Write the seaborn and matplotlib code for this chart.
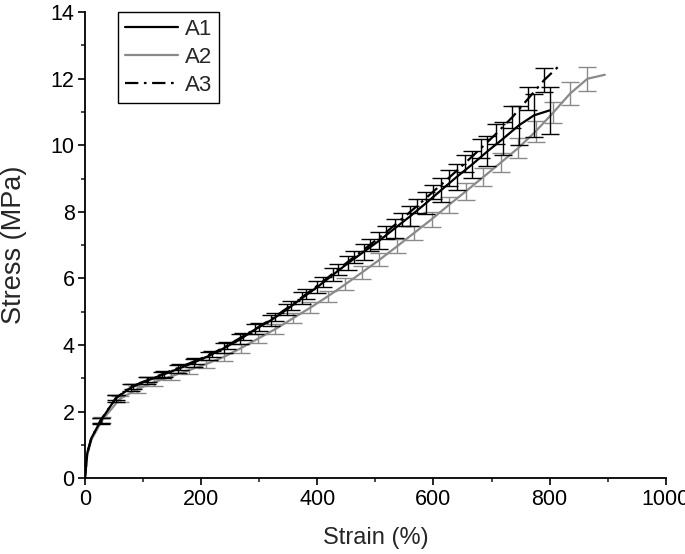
import numpy as np
import pandas as pd
import matplotlib
matplotlib.use("Agg")
import matplotlib.pyplot as plt
from matplotlib.ticker import MultipleLocator
import seaborn as sns

# strain (%) / stress (MPa) / error
a1_strain = [0, 4, 11, 27, 53, 80, 107, 133, 160, 187, 213, 240, 267, 293, 320, 347, 373,
             400, 427, 453, 480, 507, 533, 560, 587, 613, 640, 667, 693, 720, 747, 773, 800]
a1_stress = [0, 0.75, 1.20, 1.72, 2.40, 2.73, 2.93, 3.10, 3.28, 3.47, 3.67, 3.91, 4.17, 4.47, 4.74, 5.06, 5.40,
             5.74, 6.11, 6.46, 6.80, 7.14, 7.50, 7.87, 8.26, 8.65, 9.05, 9.43, 9.82, 10.20, 10.60, 10.90, 11.05]
a1_err = [0, 0, 0, 0.10, 0.10, 0.10, 0.10, 0.10, 0.12, 0.12, 0.13, 0.14, 0.15, 0.15, 0.16, 0.17, 0.18,
          0.19, 0.20, 0.22, 0.24, 0.26, 0.28, 0.30, 0.33, 0.36, 0.38, 0.40, 0.45, 0.50, 0.58, 0.65, 0.70]

a2_strain = [0, 4, 11, 30, 60, 90, 119, 149, 179, 209, 239, 268, 298, 328, 358, 388, 418,
             448, 477, 507, 537, 567, 597, 626, 656, 686, 716, 746, 776, 806, 835, 865, 895]
a2_stress = [0, 0.70, 1.15, 1.75, 2.38, 2.67, 2.88, 3.06, 3.24, 3.43, 3.64, 3.90, 4.19, 4.48, 4.80, 5.12, 5.46,
             5.82, 6.18, 6.56, 6.96, 7.37, 7.78, 8.20, 8.62, 9.05, 9.48, 9.92, 10.42, 10.98, 11.55, 12.00, 12.12]
a2_err = [0, 0, 0, 0.10, 0.10, 0.10, 0.10, 0.10, 0.11, 0.12, 0.12, 0.13, 0.14, 0.15, 0.15, 0.16, 0.17,
          0.18, 0.19, 0.20, 0.21, 0.22, 0.23, 0.24, 0.25, 0.26, 0.28, 0.30, 0.31, 0.32, 0.34, 0.36, 0]

a3_strain = [0, 4, 11, 27, 54, 82, 109, 136, 163, 190, 218, 245, 272, 300, 327, 354, 381,
             409, 436, 463, 490, 518, 545, 572, 599, 627, 654, 681, 708, 736, 763, 790, 817]
a3_stress = [0, 0.75, 1.20, 1.74, 2.42, 2.76, 2.96, 3.14, 3.33, 3.52, 3.73, 3.98, 4.26, 4.55, 4.85, 5.18, 5.53,
             5.90, 6.27, 6.64, 7.00, 7.38, 7.78, 8.18, 8.60, 9.03, 9.46, 9.90, 10.35, 10.85, 11.40, 11.95, 12.40]
a3_err = [0, 0, 0, 0.08, 0.08, 0.08, 0.08, 0.09, 0.09, 0.10, 0.10, 0.11, 0.11, 0.12, 0.12, 0.13, 0.14,
          0.15, 0.16, 0.17, 0.18, 0.19, 0.20, 0.21, 0.22, 0.24, 0.26, 0.28, 0.30, 0.32, 0.34, 0.36, 0]

sns.set_style("ticks")
plt.rcParams["font.family"] = ["Liberation Sans", "DejaVu Sans"]

fig = plt.figure(figsize=(6.85, 5.54), dpi=100)
ax = fig.add_axes([0.124, 0.137, 0.848, 0.841])

grey = "#8a8a8a"
series = [
    ("A2", a2_strain, a2_stress, a2_err, grey, "-"),
    ("A1", a1_strain, a1_stress, a1_err, "black", "-"),
    ("A3", a3_strain, a3_stress, a3_err, "black", (0, (6, 2.5, 1.2, 2.5))),
]
for name, xs, ys, es, col, ls in series:
    df = pd.DataFrame({"strain": xs, "stress": ys, "err": es})
    sns.lineplot(data=df, x="strain", y="stress", ax=ax, color=col, lw=1.6,
                 linestyle=ls, label=name, sort=False)
    sub = df[df["err"] > 0]
    ax.errorbar(sub["strain"], sub["stress"], yerr=sub["err"], fmt="none",
                ecolor=col, elinewidth=1.0, capsize=6.5, capthick=1.0)

ax.set_xlim(0, 1000)
ax.set_ylim(0, 14)
ax.xaxis.set_major_locator(MultipleLocator(200))
ax.xaxis.set_minor_locator(MultipleLocator(100))
ax.yaxis.set_major_locator(MultipleLocator(2))
ax.yaxis.set_minor_locator(MultipleLocator(1))
ax.tick_params(which="major", direction="out", length=5, width=1.2, pad=2.5,
               labelsize=15.5, colors="black")
ax.tick_params(which="minor", direction="out", length=3, width=1.2)
for s in ["left", "bottom"]:
    ax.spines[s].set_linewidth(1.3)
    ax.spines[s].set_color("black")
sns.despine(ax=ax)

ax.set_xlabel("Strain (%)", fontsize=17)
ax.set_ylabel("Stress (MPa)", fontsize=19.5)
ax.xaxis.set_label_coords(0.5, -0.105)
ax.yaxis.set_label_coords(-0.1, 0.5)

handles, labels = ax.get_legend_handles_labels()
order = [labels.index(n) for n in ["A1", "A2", "A3"]]
leg = ax.legend([handles[i] for i in order], [labels[i] for i in order],
                loc="upper left", bbox_to_anchor=(0.057, 1.0), borderaxespad=0,
                fontsize=16, frameon=True, fancybox=False, edgecolor="black",
                framealpha=1, handlelength=2.4, handletextpad=0.3, borderpad=0.3,
                labelspacing=0.32)
leg.get_frame().set_linewidth(1.0)

fig.savefig("out.png", dpi=100)
